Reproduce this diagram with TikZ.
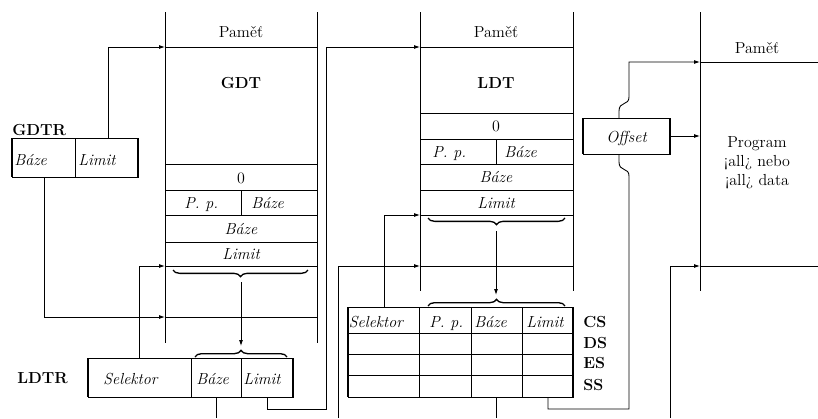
\documentclass[tikz,border=0pt]{standalone}
\usetikzlibrary{arrows.meta,decorations.pathreplacing}
\newcommand\myfs{\fontsize{12}{14}\selectfont}
\begin{document}
\begin{tikzpicture}[x=0.75pt,y=-0.75pt,
  edge/.style={line width=0.6pt},
  thickedge/.style={line width=1.4pt},
  conn/.style={line width=0.65pt},
  arr/.style={conn,-{Latex[length=4.5pt,width=3pt]}},
  txt/.style={font=\myfs, inner sep=0pt, anchor=base},
  itx/.style={font=\myfs\itshape, inner sep=0pt, anchor=base west},
  itc/.style={font=\myfs\itshape, inner sep=0pt, anchor=base},
  bfx/.style={font=\myfs\bfseries, inner sep=0pt, anchor=base},
  bfw/.style={font=\myfs\bfseries, inner sep=0pt, anchor=base west},
  brc/.style={decorate, decoration={brace, amplitude=5pt, aspect=0.5}, line width=1pt}
]
\useasboundingbox (0,0) rectangle (818,418);

% ---------------- GDT column ----------------
\draw[edge] (165,12) -- (165,343) (317,12) -- (317,343);
\foreach \yy in {47,164,190,215,242,266,317} \draw[edge] (165,\yy) -- (317,\yy);
\draw[edge] (241,190) -- (241,215);
\node[txt] (gpam) at (241,37) {Paměť};
\node[bfx] (gdt) at (241,88) {GDT};
\node[txt] (g0) at (241,183) {0};
\node[itx] (gpp) at (184,208) {P. p.};
\node[itx] (gbz) at (251,208) {Báze};
\node[itc] (gbz2) at (241,234) {Báze};
\node[itc] (glim) at (241,259) {Limit};
\draw[brc] (308,270) -- (173,270);
\coordinate (gdtTop) at (165,47);
\coordinate (gdtSel) at (165,266);
\coordinate (gdtBase) at (165,317);
\coordinate (gbrTip) at (241,282);

% ---------------- LDT column ----------------
\draw[edge] (420,12) -- (420,291) (573,12) -- (573,291);
\foreach \yy in {47,113,139,164,190,215,266} \draw[edge] (420,\yy) -- (573,\yy);
\draw[edge] (496,139) -- (496,164);
\node[txt] (lpam) at (496,37) {Paměť};
\node[bfx] (ldt) at (496,88) {LDT};
\node[txt] (l0) at (496,131) {0};
\node[itx] (lpp) at (432,157) {P. p.};
\node[itx] (lbz) at (504,157) {Báze};
\node[itc] (lbz2) at (496,182) {Báze};
\node[itc] (llim) at (496,208) {Limit};
\draw[brc] (565,218) -- (428,218);
\coordinate (ldtTop) at (420,47);
\coordinate (ldtSel) at (420,215);
\coordinate (ldtBase) at (420,266);
\coordinate (lbrTip) at (496,231);

% ---------------- Right memory column ----------------
\draw[edge] (700,12) -- (700,291);
\draw[edge] (700,62) -- (818,62);
\draw[edge] (700,266) -- (818,266);
\node[txt] (rpam) at (757,53) {Paměť};
\node[txt] (prog1) at (757,147) {Program};
\node[txt] (prog2) at (757,166) {¡all¿ nebo};
\node[txt] (prog3) at (757,185) {¡all¿ data};
\coordinate (memTop) at (700,62);
\coordinate (memOff) at (700,136);
\coordinate (memBase) at (700,266);

% ---------------- GDTR ----------------
\node[bfw] (gdtrlbl) at (12,135) {GDTR};
\draw[edge] (12,138) rectangle (138,177);
\draw[edge] (75,138) -- (75,177);
\draw[thickedge] (12,138) -- (12,177) (138,138) -- (138,177);
\node[itx] (gdtrB) at (14,165) {Báze};
\node[itx] (gdtrL) at (78,165) {Limit};
\coordinate (gdtrBbot) at (44,177);
\coordinate (gdtrLtop) at (108,138);

% ---------------- LDTR ----------------
\node[bfw] (ldtrlbl) at (17,383) {LDTR};
\draw[edge] (88,358) rectangle (293,397);
\draw[edge] (191,358) -- (191,397) (241,358) -- (241,397);
\draw[thickedge] (88,358) -- (88,397) (293,358) -- (293,397);
\node[itx] (ldtrS) at (103,384) {Selektor};
\node[itx] (ldtrB) at (196,384) {Báze};
\node[itx] (ldtrL) at (243,384) {Limit};
\draw[brc] (195,357) -- (287,357);
\coordinate (ldtrSel) at (139,358);
\coordinate (ldtrBbot) at (216,397);
\coordinate (ldtrLbot) at (267,397);
\coordinate (ldtrBr) at (241,346);

% ---------------- descriptor cache ----------------
\draw[edge] (348,307) rectangle (573,397);
\foreach \yy in {333,354,375} \draw[edge] (348,\yy) -- (573,\yy);
\foreach \xx in {419,471,522} \draw[edge] (\xx,307) -- (\xx,397);
\draw[thickedge] (348,307) -- (348,397) (573,307) -- (573,397);
\node[itx] (cSel) at (348.5,327) {Selektor};
\node[itx] (cPP) at (429,327) {P. p.};
\node[itx] (cB) at (474,327) {Báze};
\node[itx] (cL) at (526,327) {Limit};
\node[bfw] (cs) at (583,327) {CS};
\node[bfw] (ds) at (583,348) {DS};
\node[bfw] (es) at (583,368) {ES};
\node[bfw] (ss) at (583,390) {SS};
\draw[brc] (428,306) -- (565,306);
\coordinate (cSelTop) at (384,307);
\coordinate (cBot) at (496,397);
\coordinate (cLimBot) at (548,397);
\coordinate (cBr) at (496,295);

% ---------------- connectors ----------------
\coordinate (bot1) at (216,418);
\coordinate (bot2) at (338,418);
\coordinate (bot3) at (496,418);
\coordinate (bot4) at (670,418);

\draw[arr] (gdtrLtop) |- (gdtTop);
\draw[arr] (gdtrBbot) |- (gdtBase);
\draw[arr] (ldtrSel) |- (gdtSel);
\draw[arr] (gbrTip) -- (ldtrBr);
\draw[conn] (ldtrBbot) -- (bot1);
\draw[arr] (ldtrLbot) -- (267,409) -- (326,409) -- (326,47) -- (ldtTop);
\draw[arr] (bot2) |- (ldtBase);
\draw[arr] (cSelTop) |- (ldtSel);
\draw[arr] (lbrTip) -- (cBr);
\draw[conn] (cBot) -- (bot3);
\draw[arr] (cLimBot) -- (548,409) -- (629,409) -- (629,176)
   .. controls (629,167) and (619,172) .. (619,162) -- (619,111)
   .. controls (619,101) and (629,106) .. (629,97) -- (629,62) -- (memTop);
\draw[arr] (bot4) |- (memBase);

% ---------------- Offset ----------------
\draw[edge, fill=white] (583,118) rectangle (670,154);
\draw[thickedge] (583,118) -- (583,154) (670,118) -- (670,154);
\node[itc] (off) at (626.5,142) {Offset};
\coordinate (offR) at (670,136);
\draw[arr] (offR) -- (memOff);
\end{tikzpicture}
\end{document}
